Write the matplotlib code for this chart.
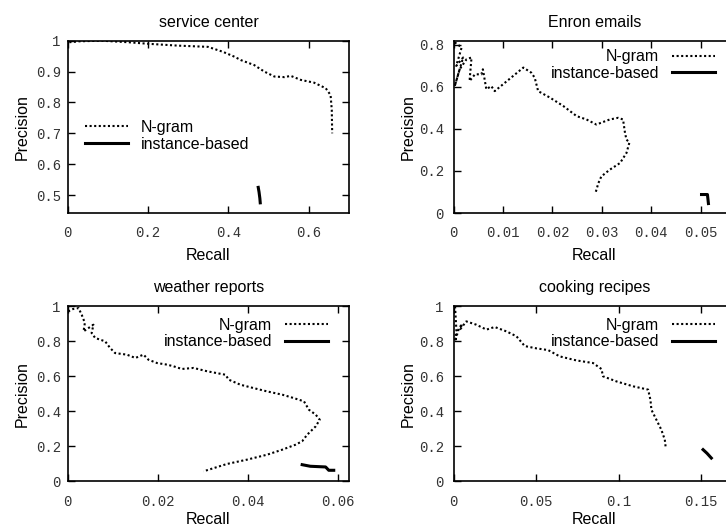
import numpy as np
import matplotlib
matplotlib.use('Agg')
import matplotlib.pyplot as plt
from matplotlib.ticker import FormatStrFormatter

plt.rcParams['font.family'] = 'Liberation Sans'

# service center
sc_ngram_r = [0.004, 0.03, 0.084, 0.15, 0.2, 0.274, 0.349, 0.386, 0.415, 0.431, 0.464, 0.489,
              0.514, 0.539, 0.555, 0.58, 0.613, 0.642, 0.654, 0.657, 0.658]
sc_ngram_p = [0.995, 0.998, 1.0, 0.995, 0.99, 0.984, 0.98, 0.964, 0.948, 0.937, 0.921, 0.9,
              0.884, 0.882, 0.886, 0.873, 0.864, 0.846, 0.824, 0.776, 0.70]
sc_inst_r = [0.474, 0.476, 0.478, 0.479]
sc_inst_p = [0.525, 0.51, 0.49, 0.475]

# Enron emails
en_ngram_r = [0.0002, 0.0016, 0.0005, 0.0019, 0.0002, 0.0012, 0.0026, 0.0036, 0.0032, 0.0043,
              0.0056, 0.0059, 0.0066, 0.0076, 0.0083, 0.0141, 0.0157, 0.0164, 0.0171, 0.0195,
              0.0222, 0.0249, 0.0269, 0.0289, 0.0316, 0.0333, 0.0343, 0.0347, 0.035, 0.0356,
              0.035, 0.0337, 0.0316, 0.0299, 0.0293, 0.0287]
en_ngram_p = [0.812, 0.788, 0.70, 0.74, 0.604, 0.684, 0.732, 0.74, 0.628, 0.66,
              0.66, 0.684, 0.589, 0.604, 0.58, 0.692, 0.668, 0.644, 0.58, 0.549,
              0.509, 0.461, 0.445, 0.421, 0.445, 0.453, 0.445, 0.381, 0.349, 0.336,
              0.286, 0.238, 0.206, 0.174, 0.142, 0.094]
en_inst_r = [0.0502, 0.0514, 0.0516]
en_inst_p = [0.088, 0.088, 0.045]

# weather reports
we_ngram_r = [0.0001, 0.0012, 0.0024, 0.0031, 0.0038, 0.0035, 0.0046, 0.0057, 0.0053, 0.0061,
              0.0083, 0.0094, 0.0105, 0.0131, 0.015, 0.0168, 0.0179, 0.0198, 0.022, 0.0235,
              0.0253, 0.0279, 0.0309, 0.035, 0.0357, 0.0383, 0.0412, 0.0442, 0.0476, 0.0501,
              0.0524, 0.0535, 0.055, 0.0559, 0.055, 0.0531, 0.052, 0.0505, 0.0476, 0.0442,
              0.0398, 0.0353, 0.0301]
we_ngram_p = [0.971, 0.985, 0.99, 0.952, 0.905, 0.857, 0.876, 0.895, 0.847, 0.819,
              0.80, 0.762, 0.733, 0.724, 0.705, 0.724, 0.695, 0.676, 0.667, 0.657,
              0.642, 0.648, 0.629, 0.609, 0.581, 0.552, 0.533, 0.514, 0.495, 0.476,
              0.457, 0.409, 0.381, 0.352, 0.314, 0.266, 0.229, 0.209, 0.181, 0.152,
              0.124, 0.099, 0.057]
we_inst_r = [0.052, 0.0538, 0.0572, 0.0579, 0.059]
we_inst_p = [0.095, 0.086, 0.082, 0.063, 0.063]

# cooking recipes
co_ngram_r = [0.0008, 0.0012, 0.0016, 0.0008, 0.003, 0.005, 0.004, 0.0076, 0.0137, 0.0198,
              0.0248, 0.0319, 0.038, 0.043, 0.05, 0.0572, 0.0642, 0.0743, 0.0844, 0.0895,
              0.0905, 0.0986, 0.1087, 0.1178, 0.1192, 0.1198, 0.1228, 0.1258, 0.1279, 0.1285]
co_ngram_p = [1.0, 0.93, 0.86, 0.80, 0.87, 0.90, 0.87, 0.914, 0.895, 0.867,
              0.882, 0.857, 0.829, 0.773, 0.76, 0.75, 0.714, 0.691, 0.676, 0.642,
              0.60, 0.571, 0.543, 0.524, 0.466, 0.409, 0.352, 0.295, 0.238, 0.19]
co_inst_r = [0.1511, 0.1535, 0.1561]
co_inst_p = [0.181, 0.16, 0.133]

panels = [
    dict(title='service center', nr=sc_ngram_r, np_=sc_ngram_p, ir=sc_inst_r, ip=sc_inst_p,
         rect=[0.0933, 0.5958, 0.3875, 0.327], xlim=(0, 0.7), ylim=(0.442, 1.0),
         xt=[0, 0.2, 0.4, 0.6], yt=[0.5, 0.6, 0.7, 0.8, 0.9, 1.0],
         leg=dict(loc='upper left', anchor=(0.06, 0.54), first=True), ypad=5.0, xlpad=5.5),
    dict(title='Enron emails', nr=en_ngram_r, np_=en_ngram_p, ir=en_inst_r, ip=en_inst_p,
         rect=[0.625, 0.5958, 0.3875, 0.327], xlim=(0, 0.057), ylim=(0, 0.82),
         xt=[0, 0.01, 0.02, 0.03, 0.04, 0.05], yt=[0, 0.2, 0.4, 0.6, 0.8],
         leg=dict(loc='upper right', anchor=(0.928, 0.95), first=False), ypad=7.2, xlpad=5.5),
    dict(title='weather reports', nr=we_ngram_r, np_=we_ngram_p, ir=we_inst_r, ip=we_inst_p,
         rect=[0.0933, 0.0867, 0.3875, 0.332], xlim=(0, 0.0624), ylim=(0, 1.0),
         xt=[0, 0.02, 0.04, 0.06], yt=[0, 0.2, 0.4, 0.6, 0.8, 1.0],
         leg=dict(loc='upper right', anchor=(0.926, 0.936), first=False), ypad=5.0, xlpad=2.5),
    dict(title='cooking recipes', nr=co_ngram_r, np_=co_ngram_p, ir=co_inst_r, ip=co_inst_p,
         rect=[0.625, 0.0867, 0.3875, 0.332], xlim=(0, 0.1705), ylim=(0, 1.0),
         xt=[0, 0.05, 0.1, 0.15], yt=[0, 0.2, 0.4, 0.6, 0.8, 1.0],
         leg=dict(loc='upper right', anchor=(0.928, 0.936), first=False), ypad=7.2, xlpad=2.5),
]

fig = plt.figure(figsize=(7.26, 5.27), dpi=100)

for p in panels:
    ax = fig.add_axes(p['rect'])
    ax.plot(p['nr'], p['np_'], color='black', lw=1.5, linestyle=(0, (1, 1.2)), label='N-gram')
    ax.plot(p['ir'], p['ip'], color='black', lw=2.2, label='instance-based')
    ax.set_xlim(p['xlim'])
    ax.set_ylim(p['ylim'])
    ax.set_xticks(p['xt'])
    ax.set_yticks(p['yt'])
    ax.xaxis.set_major_formatter(FormatStrFormatter('%g'))
    ax.yaxis.set_major_formatter(FormatStrFormatter('%g'))
    ax.tick_params(direction='in', top=True, right=True, length=5, width=1, labelsize=10)
    ax.tick_params(axis='x', pad=9.5)
    ax.tick_params(axis='y', pad=p['ypad'])
    for lab in ax.get_xticklabels() + ax.get_yticklabels():
        lab.set_fontfamily('Liberation Mono')
        lab.set_color('#333333')
    for s in ax.spines.values():
        s.set_linewidth(1.2)
    ax.set_title(p['title'], fontsize=11.5, pad=10)
    ax.set_xlabel('Recall', fontsize=11.5, labelpad=p['xlpad'])
    ax.set_ylabel('Precision', fontsize=11.5)
    ax.yaxis.set_label_coords(-0.135, 0.5)
    lg = p['leg']
    ax.legend(loc=lg['loc'], bbox_to_anchor=lg['anchor'], frameon=False, fontsize=11.5,
              markerfirst=lg['first'], handlelength=2.7, handletextpad=0.8,
              borderpad=0, borderaxespad=0, labelspacing=0.1)

fig.savefig('out.png', dpi=100)
